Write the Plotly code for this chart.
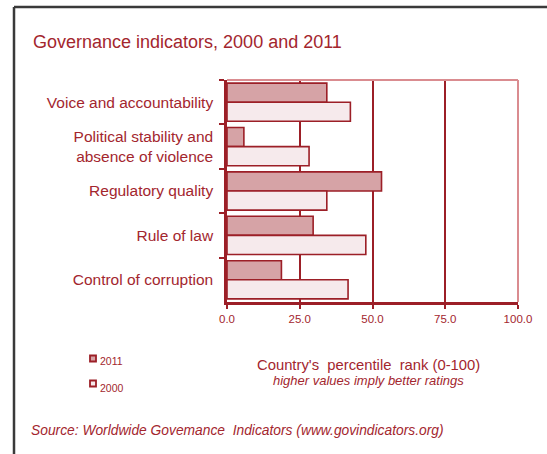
import plotly.graph_objects as go

# Governance indicator percentile ranks (0-100)
categories = [
    "Voice and accountability",
    "Political stability and<br>absence of violence",
    "Regulatory quality",
    "Rule of law",
    "Control of corruption",
]
values_2011 = [34.3, 5.8, 53.1, 29.6, 18.7]
values_2000 = [42.4, 28.2, 34.3, 47.7, 41.6]
x_ticks = [0, 25, 50, 75, 100]
series_names = ["2011", "2000"]

W, H = 547, 454
L, R, T, B = 227, 518, 80, 302  # plot area in pixels

DARK = "#9C1F27"
TEXT = "#A3262E"
FILL_2011 = "#D6A3A6"
FILL_2000 = "#F6EAEC"
SOFT = "#DA8C90"
FONT = "Liberation Sans, Arial, sans-serif"


def px_x(p):
    return (p - L) / (R - L)


def px_y(p):
    return (B - p) / (B - T)


fig = go.Figure()
fig.add_trace(go.Bar(
    y=categories, x=values_2011, orientation="h", name=series_names[0],
    marker=dict(color=FILL_2011, line=dict(color=DARK, width=1.6)),
))
fig.add_trace(go.Bar(
    y=categories, x=values_2000, orientation="h", name=series_names[1],
    marker=dict(color=FILL_2000, line=dict(color=DARK, width=1.6)),
))

# small legend keys under the axis, drawn as paper-anchored squares with labels
legend_shapes, legend_notes = [], []
for i, (name, fill) in enumerate(zip(series_names, [FILL_2011, FILL_2000])):
    cy = 358.5 + i * 25
    legend_shapes.append(dict(
        type="rect", xref="paper", yref="paper",
        x0=px_x(90), x1=px_x(96), y0=px_y(cy - 3), y1=px_y(cy + 3),
        fillcolor=fill, line=dict(color=DARK, width=1.8),
    ))
    legend_notes.append(dict(
        text=name, xref="paper", yref="paper", x=px_x(98), y=px_y(cy + 2 + i * 2),
        xanchor="left", yanchor="middle", showarrow=False,
        font=dict(size=10.5, color=TEXT),
    ))

fig.update_layout(
    width=W, height=H,
    margin=dict(l=L, r=W - R, t=T, b=H - B),
    paper_bgcolor="white", plot_bgcolor="white",
    barmode="group", bargap=0.14, bargroupgap=0,
    font=dict(family=FONT, color=TEXT),
    showlegend=False,
    xaxis=dict(
        range=[0, 100], tickvals=x_ticks, tickformat=".1f",
        showgrid=True, gridcolor=DARK, gridwidth=2,
        showline=True, linecolor=DARK, linewidth=2.5,
        ticks="outside", ticklen=4, tickwidth=2, tickcolor=DARK,
        tickfont=dict(size=11.5, color=TEXT), zeroline=False,
    ),
    yaxis=dict(
        autorange="reversed", showgrid=False,
        showline=True, linecolor=DARK, linewidth=2.5,
        ticks="outside", tickson="boundaries", ticklen=5, tickwidth=2, tickcolor=DARK,
        tickfont=dict(size=15.5, color=TEXT), ticklabelstandoff=8,
    ),
    shapes=[
        # top and right edges of the plot area
        dict(type="line", xref="x domain", yref="y domain", x0=0, x1=1, y0=1, y1=1,
             line=dict(color=SOFT, width=2)),
        dict(type="line", xref="x domain", yref="y domain", x0=1, x1=1, y0=0, y1=1,
             line=dict(color=SOFT, width=2)),
        # outer frame
        dict(type="line", xref="paper", yref="paper", x0=px_x(14), x1=px_x(W + 5),
             y0=px_y(7), y1=px_y(7), line=dict(color="#3a3a3a", width=2.5)),
        dict(type="line", xref="paper", yref="paper", x0=px_x(14), x1=px_x(14),
             y0=px_y(7), y1=px_y(H + 5), line=dict(color="#3a3a3a", width=2.5)),
    ] + legend_shapes,
    annotations=[
        dict(text="Governance indicators, 2000 and 2011", xref="paper", yref="paper",
             x=px_x(31), y=px_y(42), xanchor="left", yanchor="middle", showarrow=False,
             font=dict(size=18, color=TEXT)),
        dict(text="Country's  percentile  rank (0-100)", xref="paper", yref="paper",
             x=px_x(368), y=px_y(365), xanchor="center", yanchor="middle", showarrow=False,
             font=dict(size=14.8, color=TEXT)),
        dict(text="<i>higher values imply better ratings</i>", xref="paper", yref="paper",
             x=px_x(368), y=px_y(380), xanchor="center", yanchor="middle", showarrow=False,
             font=dict(size=13, color=TEXT)),
        dict(text="<i>Source: Worldwide Govemance  Indicators (www.govindicators.org)</i>",
             xref="paper", yref="paper",
             x=px_x(29), y=px_y(430), xanchor="left", yanchor="middle", showarrow=False,
             font=dict(size=13.8, color=TEXT)),
    ] + legend_notes,
)

fig.write_html("out.html")
